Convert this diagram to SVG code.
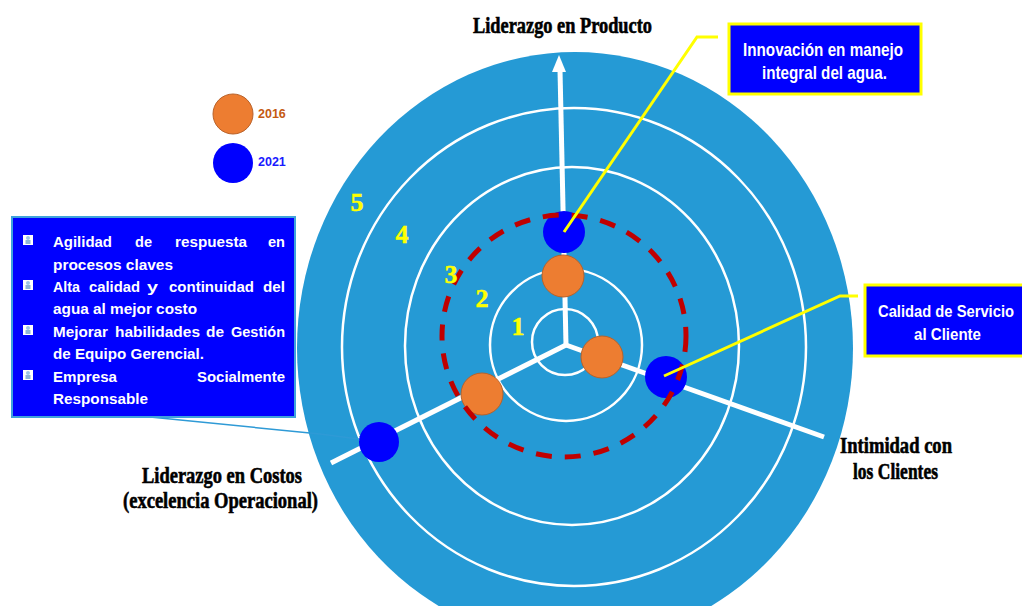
<svg xmlns="http://www.w3.org/2000/svg" xmlns:xlink="http://www.w3.org/1999/xlink" width="1022" height="606" viewBox="0 0 1022 606">
<style>
.ring{fill:none;stroke:#ffffff;stroke-width:2.5}
.spoke{stroke:#ffffff;stroke-width:5;fill:none}
.y16{fill:#ed7d31;stroke:#b8622a;stroke-width:1}
.y21{fill:#0000ff}
.lead{fill:none;stroke:#ffff00;stroke-width:3}
.num{font-family:"Liberation Serif",serif;font-weight:bold;font-size:26px;fill:#ffff00;stroke:#ffff00;stroke-width:0.5;text-anchor:middle}
.axis{font-family:"Liberation Serif",serif;font-weight:bold;font-size:23px;fill:#000000;stroke:#000000;stroke-width:0.6}
.box{fill:#0000ff;stroke:#ffff00;stroke-width:3}
.bt{font-family:"Liberation Sans",Arial,sans-serif;font-weight:bold;fill:#ffffff}
.lt{font-family:"Liberation Sans",Arial,sans-serif;font-weight:bold;font-size:15.5px;fill:#ffffff}
</style>
<defs>
<g id="bullet">
<rect x="0" y="0" width="10" height="10" fill="#ffffff"/>
<circle cx="5" cy="3" r="2" fill="#9cc6e6"/>
<rect x="2.5" y="5" width="5" height="4" fill="#8fb6d8"/>
</g>
<marker id="arr" markerWidth="8" markerHeight="8" refX="7" refY="4" orient="auto" markerUnits="userSpaceOnUse">
<path d="M0,1 L7,4 L0,7" fill="none" stroke="#2e9ad6" stroke-width="1.5"/>
</marker>
</defs>
<rect width="1022" height="606" fill="#ffffff"/>

<g id="target">
<ellipse cx="575" cy="348" rx="278" ry="296" fill="#259ad5"/>
<ellipse class="ring" cx="574" cy="347" rx="232" ry="239"/>
<ellipse class="ring" cx="572" cy="346" rx="167" ry="179"/>
<circle class="ring" cx="566" cy="345" r="76"/>
<circle class="ring" cx="565" cy="342" r="33"/>
</g>

<g id="connectors">
<line class="spoke" x1="566" y1="345" x2="560" y2="70"/>
<polygon points="559,55 552,72 566,72" fill="#ffffff"/>
<line class="spoke" x1="566" y1="345" x2="331" y2="463"/>
<line class="spoke" x1="566" y1="345" x2="824" y2="437"/>
<path d="M150,417 L320,434 L366,440" fill="none" stroke="#2e9ad6" stroke-width="1.5" marker-end="url(#arr)"/>
</g>

<g id="points2016">
<circle class="y16" cx="563" cy="276" r="21"/>
<circle class="y16" cx="602" cy="357" r="21"/>
<circle class="y16" cx="482" cy="394" r="21"/>
</g>
<g id="points2021">
<circle class="y21" cx="564" cy="232" r="21"/>
<circle class="y21" cx="666" cy="377" r="21"/>
<circle class="y21" cx="379" cy="442" r="20"/>
</g>

<g id="target-line">
<ellipse cx="564" cy="336" rx="122" ry="121" fill="none" stroke="#c00000" stroke-width="5" stroke-dasharray="16 13"/>
</g>

<g id="leaders">
<polyline class="lead" points="564,232 697,37 718,37"/>
<polyline class="lead" points="664,376 840,296 858,296"/>
</g>

<g id="levels">
<text class="num" x="357" y="211">5</text>
<text class="num" x="402" y="243">4</text>
<text class="num" x="451" y="283">3</text>
<text class="num" x="482" y="307">2</text>
<text class="num" x="518" y="335">1</text>
</g>

<g id="legend">
<circle class="y16" cx="233" cy="114" r="20"/>
<text x="258" y="118" font-family="Liberation Sans,Arial,sans-serif" font-weight="bold" font-size="12.5" fill="#c55a11">2016</text>
<circle class="y21" cx="233" cy="163" r="20"/>
<text x="258" y="166" font-family="Liberation Sans,Arial,sans-serif" font-weight="bold" font-size="12.5" fill="#1a1aff">2021</text>
</g>

<g id="axis-product">
<text class="axis" x="473" y="33" textLength="179" lengthAdjust="spacingAndGlyphs">Liderazgo en Producto</text>
</g>
<g id="axis-cost">
<text class="axis" x="142" y="483" textLength="160" lengthAdjust="spacingAndGlyphs">Liderazgo en Costos</text>
<text class="axis" x="123" y="508" textLength="195" lengthAdjust="spacingAndGlyphs">(excelencia Operacional)</text>
</g>
<g id="axis-client">
<text class="axis" x="840" y="453" textLength="112" lengthAdjust="spacingAndGlyphs">Intimidad con</text>
<text class="axis" x="853" y="479" textLength="85" lengthAdjust="spacingAndGlyphs">los Clientes</text>
</g>

<g id="box-innovacion">
<rect class="box" x="729" y="24" width="192" height="70"/>
<text class="bt" x="743" y="56" font-size="18.5" textLength="160" lengthAdjust="spacingAndGlyphs">Innovación en manejo</text>
<text class="bt" x="762" y="79" font-size="18.5" textLength="125" lengthAdjust="spacingAndGlyphs">integral del agua.</text>
</g>

<g id="box-calidad">
<rect class="box" x="865" y="285" width="165" height="71"/>
<text class="bt" x="878" y="317" font-size="17" textLength="136" lengthAdjust="spacingAndGlyphs">Calidad de Servicio</text>
<text class="bt" x="914" y="340" font-size="17" textLength="67" lengthAdjust="spacingAndGlyphs">al Cliente</text>
</g>

<g id="box-objetivos">
<rect x="12" y="217" width="283" height="200" fill="#0000ff" stroke="#3ea2dc" stroke-width="2"/>
<use xlink:href="#bullet" x="23" y="235"/>
<use xlink:href="#bullet" x="23" y="280"/>
<use xlink:href="#bullet" x="23" y="325"/>
<use xlink:href="#bullet" x="23" y="370"/>
<text class="lt" x="53" y="247" textLength="59" lengthAdjust="spacingAndGlyphs">Agilidad</text>
<text class="lt" x="135" y="247" textLength="17" lengthAdjust="spacingAndGlyphs">de</text>
<text class="lt" x="175" y="247" textLength="72" lengthAdjust="spacingAndGlyphs">respuesta</text>
<text class="lt" x="268" y="247" textLength="17" lengthAdjust="spacingAndGlyphs">en</text>
<text class="lt" x="53" y="270" textLength="120" lengthAdjust="spacingAndGlyphs">procesos claves</text>
<text class="lt" x="53" y="292" textLength="27" lengthAdjust="spacingAndGlyphs">Alta</text>
<text class="lt" x="89" y="292" textLength="51" lengthAdjust="spacingAndGlyphs">calidad</text>
<text class="lt" x="147" y="292" textLength="11" lengthAdjust="spacingAndGlyphs">y</text>
<text class="lt" x="169" y="292" textLength="85" lengthAdjust="spacingAndGlyphs">continuidad</text>
<text class="lt" x="263" y="292" textLength="22" lengthAdjust="spacingAndGlyphs">del</text>
<text class="lt" x="53" y="314" textLength="144" lengthAdjust="spacingAndGlyphs">agua al mejor costo</text>
<text class="lt" x="53" y="337" textLength="55" lengthAdjust="spacingAndGlyphs">Mejorar</text>
<text class="lt" x="115" y="337" textLength="85" lengthAdjust="spacingAndGlyphs">habilidades</text>
<text class="lt" x="206" y="337" textLength="18" lengthAdjust="spacingAndGlyphs">de</text>
<text class="lt" x="231" y="337" textLength="54" lengthAdjust="spacingAndGlyphs">Gestión</text>
<text class="lt" x="53" y="359" textLength="151" lengthAdjust="spacingAndGlyphs">de Equipo Gerencial.</text>
<text class="lt" x="53" y="382" textLength="64" lengthAdjust="spacingAndGlyphs">Empresa</text>
<text class="lt" x="197" y="382" textLength="88" lengthAdjust="spacingAndGlyphs">Socialmente</text>
<text class="lt" x="53" y="404" textLength="95" lengthAdjust="spacingAndGlyphs">Responsable</text>
</g>
</svg>
